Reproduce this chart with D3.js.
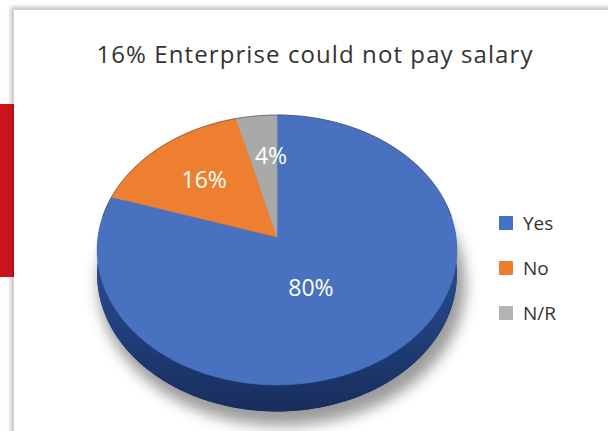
<!DOCTYPE html>
<html>
<head>
<meta charset="utf-8">
<script src="https://cdn.jsdelivr.net/npm/d3@7/dist/d3.min.js"></script>
<style>
  html, body { margin: 0; padding: 0; background: #fff; }
  svg { display: block; }
</style>
</head>
<body>
<svg id="chart" width="608" height="431"></svg>
<script>
// Survey answers: could the enterprise pay salary?
const categories = ["Yes", "No", "N/R"];
const shares = [80, 16, 4];
const shareLabels = ["80%", "16%", "4%"];
const titleText = "16% Enterprise could not pay salary";

const colors = ["#4872bf", "#ee7f30", "#a9a9a9"];
const legendColors = ["#4472c4", "#ed7d31", "#b3b3b3"];

const W = 608, H = 431;
const svg = d3.select("#chart");
const defs = svg.append("defs");

// ---- card frame with a red side tab ----
const cardShadow = defs.append("filter").attr("id", "cardShadow")
  .attr("x", "-5%").attr("y", "-5%").attr("width", "110%").attr("height", "110%");
cardShadow.append("feGaussianBlur").attr("stdDeviation", 2.2);

svg.append("rect").attr("x", 11).attr("y", 7).attr("width", W + 20).attr("height", H + 20)
  .attr("fill", "#bdbdbd").attr("filter", "url(#cardShadow)");
svg.append("rect").attr("x", 13.5).attr("y", 9.5).attr("width", W + 20).attr("height", H + 20)
  .attr("fill", "#fff").attr("stroke", "#d4d4d4").attr("stroke-width", 1);

const redGrad = defs.append("linearGradient").attr("id", "redGrad")
  .attr("x1", 0).attr("x2", 1).attr("y1", 0).attr("y2", 0);
redGrad.append("stop").attr("offset", "0%").attr("stop-color", "#d0141c");
redGrad.append("stop").attr("offset", "80%").attr("stop-color", "#c8141b");
redGrad.append("stop").attr("offset", "100%").attr("stop-color", "#9a1015");
svg.append("rect").attr("x", 0).attr("y", 104).attr("width", 14).attr("height", 173)
  .attr("fill", "url(#redGrad)");

// ---- title ----
const title = svg.append("text")
  .attr("x", 315).attr("y", 63)
  .attr("text-anchor", "middle")
  .attr("font-family", "'Open Sans', sans-serif")
  .attr("font-size", 24)
  .attr("fill", "#333")
  .text(titleText);
{
  const target = 436;
  const len = title.node().getComputedTextLength();
  const n = titleText.length;
  title.attr("letter-spacing", ((target - len) / (n - 1)).toFixed(2));
}

// ---- tilted pie projection ----
const cx = 277, cy = 237;        // apex of the slices on screen
const R = 179;                    // horizontal radius
const Rt = 133.7;                 // vertical radius after tilt
const persp = 0.096;              // front of the disc sits closer to the eye
const depth = 24;                 // thickness of the disc

function proj(a, f, drop) {
  const X = f * Math.sin(a), Z = -f * Math.cos(a);
  const w = 1 / (1 - persp * Z);
  return [cx + R * X * w, cy + Rt * Z * w + (drop || 0) * w];
}

function arcPoints(a0, a1, f, drop) {
  const n = Math.max(2, Math.ceil(Math.abs(a1 - a0) / 0.01));
  const pts = [];
  for (let i = 0; i <= n; i++) pts.push(proj(a0 + (a1 - a0) * i / n, f, drop));
  return pts;
}

const pie = d3.pie().sort(null).value(d => d)(shares);
const line = d3.line();

// soft shadow under the disc
const pieShadow = defs.append("filter").attr("id", "pieShadow")
  .attr("x", "-20%").attr("y", "-20%").attr("width", "140%").attr("height", "140%");
pieShadow.append("feGaussianBlur").attr("stdDeviation", 7);

const TAU = Math.PI * 2;
const rimBottom = arcPoints(0, TAU, 1, depth);

svg.append("path")
  .attr("d", line(arcPoints(0, TAU, 1.02, depth + 8).map(p => [p[0] + 5, p[1] + 2])) + "Z")
  .attr("fill", "#7a7a7a").attr("opacity", 0.75)
  .attr("filter", "url(#pieShadow)");

// side wall of the disc
const sideGrad = defs.append("linearGradient").attr("id", "sideGrad")
  .attr("x1", 0).attr("x2", 0).attr("y1", 0).attr("y2", 1);
sideGrad.append("stop").attr("offset", "0%").attr("stop-color", "#2e56a0");
sideGrad.append("stop").attr("offset", "60%").attr("stop-color", "#203f7c");
sideGrad.append("stop").attr("offset", "100%").attr("stop-color", "#182e5c");

svg.append("path").attr("d", line(rimBottom) + "Z").attr("fill", "#1c3467");
const frontTop = arcPoints(Math.PI * 0.42, Math.PI * 1.58, 1, 0);
const frontBottom = arcPoints(Math.PI * 1.58, Math.PI * 0.42, 1, depth);
svg.append("path").attr("d", line(frontTop.concat(frontBottom)) + "Z")
  .attr("fill", "url(#sideGrad)");

// top face slices
svg.append("g").selectAll("path")
  .data(pie)
  .join("path")
  .attr("d", d => line([[cx, cy]].concat(arcPoints(d.startAngle, d.endAngle, 1, 0))) + "Z")
  .attr("fill", (d, i) => colors[i])
  .attr("stroke", (d, i) => colors[i])
  .attr("stroke-width", 0.6);

// thin rim line along the back edge
svg.append("path")
  .attr("d", line(arcPoints(-Math.PI * 0.45, Math.PI * 0.45, 1, 0)))
  .attr("fill", "none").attr("stroke", "#3a3a3a").attr("stroke-opacity", 0.55)
  .attr("stroke-width", 1);

// slice labels
const labelLayout = [
  { f: 0.36, dx: -5, dy: 10 },
  { f: 0.62, dx: 0, dy: 0 },
  { f: 0.66, dx: 8, dy: 0 }
];
svg.append("g").selectAll("text")
  .data(pie)
  .join("text")
  .each(function (d, i) {
    const mid = (d.startAngle + d.endAngle) / 2;
    const p = proj(mid, labelLayout[i].f, 0);
    d3.select(this)
      .attr("x", p[0] + labelLayout[i].dx)
      .attr("y", p[1] + labelLayout[i].dy)
      .attr("text-anchor", "middle")
      .attr("dominant-baseline", "central")
      .attr("font-family", "'Open Sans', sans-serif")
      .attr("font-size", 23)
      .attr("fill", "#fff")
      .text(shareLabels[i]);
  });

// legend
const legendY = d3.scalePoint().domain(categories).range([223, 313]);
const legend = svg.append("g").selectAll("g")
  .data(categories)
  .join("g")
  .attr("transform", d => `translate(499,${legendY(d)})`);
legend.append("rect")
  .attr("x", 0).attr("y", -7).attr("width", 14).attr("height", 14)
  .attr("fill", (d, i) => legendColors[i]);
legend.append("text")
  .attr("x", 24).attr("y", 0)
  .attr("dominant-baseline", "central")
  .attr("font-family", "'Open Sans', sans-serif")
  .attr("font-size", 19)
  .attr("fill", "#333")
  .text(d => d);
</script>
</body>
</html>
